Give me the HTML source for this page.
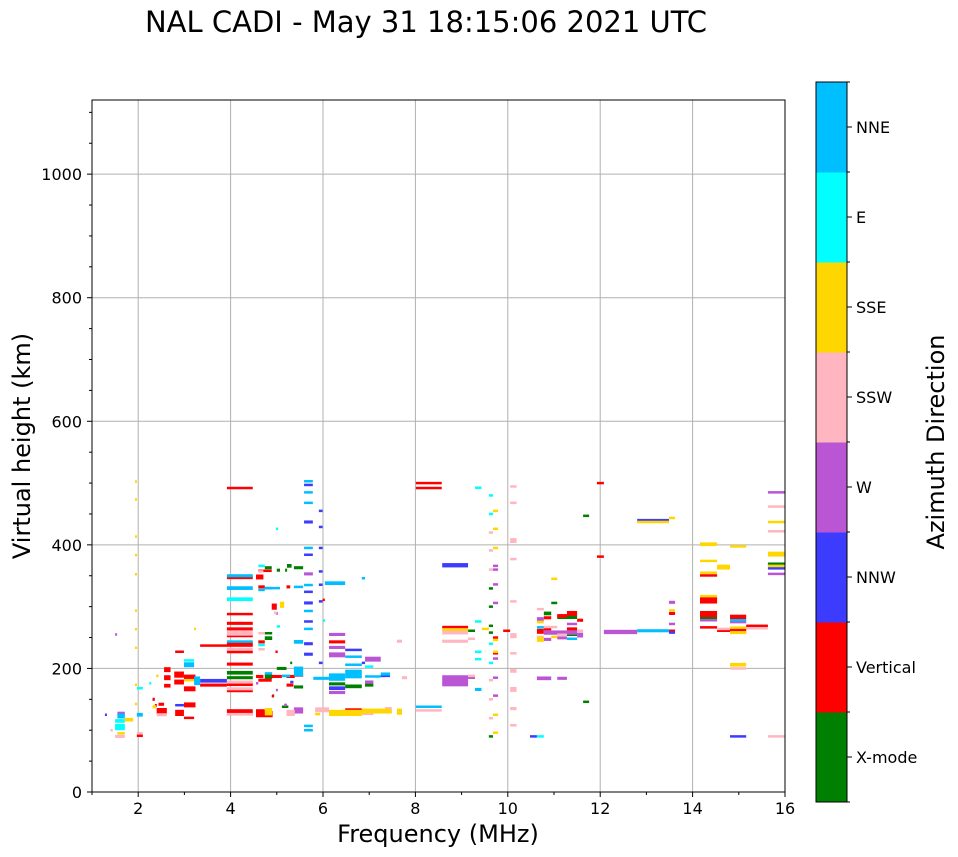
<!DOCTYPE html>
<html><head><meta charset="utf-8"><style>
body{margin:0;background:#fff;}
svg{display:block;font-family:"DejaVu Sans","Liberation Sans",sans-serif;}
</style></head><body>
<svg id="chart" width="958" height="857" viewBox="0 0 958 857" xmlns="http://www.w3.org/2000/svg">
<text x="426" y="32" font-size="29" text-anchor="middle">NAL CADI - May 31 18:15:06 2021 UTC</text>
<g id="grid"></g>
<g id="marks"></g>
<rect x="92" y="100" width="693" height="692" fill="none" stroke="#000" stroke-width="1"/>
<g id="axes"></g>
<text x="438" y="842" font-size="24" text-anchor="middle">Frequency (MHz)</text>
<text transform="translate(30,446) rotate(-90)" font-size="24" text-anchor="middle">Virtual height (km)</text>
<g id="cbar"></g>
<text transform="translate(944,442) rotate(-90)" font-size="24" text-anchor="middle">Azimuth Direction</text>
</svg>
<script>
const dirLabels = ["X-mode","Vertical","NNW","W","SSW","SSE","E","NNE"];
const dirColors = ["#008000","#ff0000","#3c3cff","#ba55d3","#ffb6c1","#ffd700","#00ffff","#00bfff"];
const xTicks = [2,4,6,8,10,12,14,16];
const yTicks = [0,200,400,600,800,1000];
// each entry: [freqStart MHz, freqEnd MHz, height km, height span km]
const xmodeBars = [[3.92,4.48,193,6],[3.92,4.48,185,5],[4.74,4.89,363,5],[5.0,5.07,359,5],[5.18,5.22,359,5],[5.22,5.32,366,6],[5.37,5.57,363,5],[4.74,4.9,249,6],[4.74,4.9,257,4],[5.0,5.21,200,5],[5.29,5.32,209,4],[4.74,4.9,187,8],[6.48,6.84,171,6],[6.13,6.48,175,5],[6.91,7.09,173,5],[5.37,5.57,170,5],[4.9,4.94,156,4],[5.11,5.25,138,4],[9.14,9.29,261,4],[9.59,9.68,330,3],[9.59,9.68,300,4],[9.59,9.68,269,4],[9.59,9.68,258,4],[9.59,9.68,90,4],[10.94,11.07,306,4],[10.78,10.94,289,6],[11.07,11.5,283,6],[11.07,11.28,258,5],[11.28,11.5,255,5],[11.63,11.76,447,4],[11.63,11.76,146,4],[14.16,14.53,281,5],[15.63,16.0,369,5]];
const verticalBars = [[3.92,4.48,492,4],[3.92,4.48,347,5],[3.92,4.48,288,4],[3.92,4.48,273,5],[3.92,4.48,264,5],[3.92,4.48,253,5],[3.92,4.48,241,5],[3.92,4.48,227,5],[3.92,4.48,207,5],[3.92,4.48,174,5],[3.92,4.48,164,5],[3.92,4.48,129,10],[3.34,4.48,237,4],[3.34,3.92,173,5],[2.56,2.7,198,8],[2.56,2.7,185,8],[2.56,2.7,172,6],[2.78,2.99,190,10],[2.78,2.99,178,8],[2.99,3.24,185,10],[2.99,3.24,167,8],[2.8,2.99,128,10],[2.99,3.24,141,8],[2.99,3.21,120,4],[2.8,2.99,227,4],[1.97,2.1,91,4],[2.31,2.36,150,5],[2.36,2.4,140,5],[2.4,2.62,131,10],[2.44,2.56,142,5],[4.55,4.71,348,8],[4.6,4.89,358,4],[4.6,4.74,332,5],[4.89,5.0,300,10],[5.21,5.29,332,5],[4.6,4.74,243,5],[4.97,5.02,227,4],[4.6,4.89,181,5],[4.55,4.74,129,10],[4.89,5.11,187,5],[5.21,5.39,187,5],[4.55,4.71,187,5],[4.89,4.94,155,4],[5.21,5.36,173,5],[5.37,5.57,189,5],[6.13,6.48,243,5],[6.48,6.84,133,5],[4.55,4.91,126,10],[5.99,6.04,311,4],[8.01,8.57,500,4],[8.01,8.57,492,4],[8.58,9.14,267,4],[9.9,10.05,261,4],[9.68,9.79,225,3],[9.68,9.79,250,4],[10.63,10.78,260,8],[10.78,10.94,282,5],[11.07,11.28,285,6],[11.28,11.5,289,8],[11.5,11.63,278,5],[11.28,11.5,264,5],[10.78,10.94,264,5],[11.93,12.08,500,4],[11.93,12.08,381,4],[13.49,13.62,289,5],[13.49,13.62,261,4],[14.16,14.53,311,12],[14.16,14.53,288,10],[14.16,14.53,267,3],[14.16,14.53,351,3],[14.53,14.81,261,4],[14.81,15.16,283,8],[14.81,15.16,261,8],[15.16,15.63,269,4]];
const nnwBars = [[1.28,1.31,125,4],[3.34,3.92,180,6],[2.8,2.99,141,3],[4.74,4.9,330,4],[5.59,5.78,497,4],[5.59,5.78,437,5],[5.59,5.78,384,4],[5.59,5.78,324,4],[5.59,5.78,306,5],[5.59,5.78,276,4],[5.59,5.78,240,5],[5.59,5.78,223,5],[5.91,5.99,455,4],[5.91,5.99,429,4],[5.91,5.99,395,4],[5.91,5.99,357,4],[5.91,5.99,336,3],[5.91,5.99,309,3],[5.91,5.99,209,4],[6.13,6.48,168,6],[6.48,6.84,230,4],[7.25,7.45,188,4],[6.84,6.91,209,4],[5.29,5.36,178,4],[8.58,9.14,367,7],[10.48,10.63,90,4],[12.8,13.49,440,4],[13.49,13.62,258,4],[14.81,15.16,90,4],[15.63,16.0,362,4],[7.25,7.34,188,4]];
const wBars = [[1.55,1.71,127,6],[1.5,1.53,255,4],[6.13,6.48,255,5],[6.13,6.48,234,5],[6.13,6.48,222,8],[6.13,6.48,161,5],[6.91,7.25,215,8],[6.91,7.09,178,5],[5.37,5.57,132,10],[5.59,5.78,353,5],[4.98,5.02,289,4],[5.16,5.22,141,4],[4.55,4.6,176,4],[4.98,5.02,165,4],[8.58,9.14,180,18],[9.14,9.29,185,4],[9.68,9.79,366,4],[9.68,9.79,360,4],[9.68,9.79,336,4],[9.68,9.79,306,4],[9.68,9.79,216,4],[9.68,9.79,185,4],[9.68,9.79,156,4],[10.63,10.78,280,6],[10.78,11.5,258,7],[11.28,11.5,272,4],[11.5,11.63,254,8],[11.07,11.28,250,6],[10.78,10.94,247,5],[10.63,10.94,184,6],[11.07,11.28,184,5],[12.08,12.8,259,7],[13.49,13.62,307,5],[13.49,13.62,272,4],[14.16,14.53,278,4],[14.81,15.16,275,4],[15.63,16.0,485,4],[15.63,16.0,353,4]];
const sswBars = [[1.5,1.71,106,6],[1.5,1.71,90,5],[1.4,1.45,100,4],[1.97,2.1,95,4],[3.92,4.48,257,8],[3.92,4.48,231,5],[3.92,4.48,178,5],[3.92,4.48,167,5],[3.92,4.48,126,4],[2.4,2.62,125,5],[4.6,4.74,231,4],[4.6,4.74,257,4],[4.94,5.0,290,4],[5.83,6.13,133,8],[6.84,7.09,127,5],[5.21,5.39,128,10],[4.6,4.71,357,4],[8.01,8.57,132,4],[8.58,9.14,259,8],[8.58,9.14,244,5],[9.14,9.29,248,4],[9.14,9.29,188,4],[9.59,9.68,420,4],[9.59,9.68,391,4],[9.59,9.68,360,4],[9.59,9.68,181,4],[9.59,9.68,150,4],[9.59,9.68,120,3],[10.05,10.19,495,3],[10.05,10.19,468,4],[10.05,10.19,407,8],[10.05,10.19,377,4],[10.05,10.19,309,3],[10.05,10.19,253,8],[10.05,10.19,225,3],[10.05,10.19,196,6],[10.05,10.19,166,8],[10.05,10.19,135,5],[10.05,10.19,108,4],[10.63,10.78,296,4],[10.63,10.78,251,4],[10.78,11.07,267,4],[11.07,11.28,254,5],[11.5,11.63,261,4],[14.53,14.81,264,4],[14.81,15.16,200,4],[15.63,16.0,462,4],[15.63,16.0,422,4],[15.63,16.0,90,4],[7.34,7.49,135,5],[7.71,7.82,185,5],[7.6,7.71,244,5],[15.16,15.63,266,2]];
const sseBars = [[1.93,1.97,503,3],[1.93,1.97,474,3],[1.93,1.97,414,3],[1.93,1.97,384,3],[1.93,1.97,353,3],[1.93,1.97,294,3],[1.93,1.97,264,3],[1.93,1.97,234,3],[1.93,1.97,174,3],[1.93,1.97,143,3],[1.71,1.89,117,6],[1.55,1.71,95,4],[3.21,3.25,264,4],[2.39,2.44,188,4],[2.31,2.39,138,5],[5.07,5.16,303,10],[4.74,4.9,130,12],[2.99,3.21,181,4],[6.13,6.84,128,10],[6.84,7.45,131,8],[5.83,5.94,126,4],[7.23,7.49,130,6],[7.6,7.71,130,10],[8.58,9.14,263,4],[9.68,9.79,455,4],[9.68,9.79,426,4],[9.68,9.79,395,4],[9.68,9.79,246,4],[9.68,9.79,227,4],[9.68,9.79,125,4],[9.68,9.79,96,4],[9.44,9.59,264,4],[10.94,11.07,345,4],[10.94,11.07,251,4],[10.63,10.78,275,4],[10.63,10.78,247,8],[12.8,13.49,437,4],[13.49,13.62,444,3],[13.49,13.62,294,4],[14.16,14.53,401,6],[14.16,14.53,374,4],[14.16,14.53,355,4],[14.16,14.53,317,4],[14.53,14.81,364,8],[14.81,15.16,398,3],[14.81,15.16,266,4],[14.81,15.16,258,5],[14.81,15.16,206,6],[15.63,16.0,437,4],[15.63,16.0,385,8],[15.63,16.0,366,4]];
const eBars = [[1.5,1.71,105,10],[1.5,1.71,115,6],[1.97,2.1,168,4],[2.24,2.28,176,4],[3.92,4.48,312,6],[2.99,3.21,213,4],[4.6,4.74,366,4],[4.98,5.03,426,4],[5.0,5.07,268,4],[4.6,4.74,238,4],[5.37,5.57,198,5],[6.0,6.03,278,3],[6.91,7.09,203,4],[9.29,9.43,493,3],[9.29,9.43,276,4],[9.29,9.43,227,4],[9.29,9.43,215,4],[9.59,9.68,480,4],[9.59,9.68,450,4],[9.59,9.68,240,4],[9.59,9.68,209,4],[10.63,10.78,90,4]];
const nneBars = [[1.55,1.71,123,8],[1.97,2.1,125,6],[3.92,4.48,350,5],[3.92,4.48,330,6],[3.92,4.48,244,3],[2.99,3.21,206,8],[3.21,3.34,180,14],[5.59,5.78,503,4],[5.59,5.78,485,4],[5.59,5.78,468,4],[5.59,5.78,395,4],[5.59,5.78,293,4],[5.59,5.78,264,4],[5.59,5.78,335,4],[6.04,6.48,338,6],[6.13,6.48,186,12],[6.48,6.84,191,14],[5.79,6.13,184,5],[6.48,6.84,219,4],[6.48,6.84,206,4],[6.91,7.25,187,4],[7.25,7.45,191,5],[6.84,6.91,346,4],[5.37,5.57,243,6],[5.37,5.57,195,16],[4.6,4.74,327,4],[4.74,5.07,330,4],[5.37,5.57,332,4],[4.74,4.9,192,4],[5.11,5.29,188,4],[5.59,5.78,107,4],[5.59,5.78,100,4],[8.01,8.57,138,4],[9.29,9.43,166,5],[11.28,11.5,248,4],[10.63,10.78,267,3],[12.8,13.49,261,5],[14.81,15.16,278,4]];
const seriesByDir = [xmodeBars, verticalBars, nnwBars, wBars, sswBars, sseBars, eBars, nneBars];

const NS = "http://www.w3.org/2000/svg";
const PL = 92, PR = 785, PT = 100, PB = 792;
const X0 = 1, X1 = 16, Y0 = 0, Y1 = 1120;
function xs(f){ return PL + (f - X0) / (X1 - X0) * (PR - PL); }
function ys(h){ return PB - (h - Y0) / (Y1 - Y0) * (PB - PT); }
function mk(tag, attrs, parent){ const e = document.createElementNS(NS, tag); for (const k in attrs) e.setAttribute(k, attrs[k]); parent.appendChild(e); return e; }

const grid = document.getElementById('grid');
const axes = document.getElementById('axes');
xTicks.forEach(t => {
  const gl = mk('line', {x1: xs(t), x2: xs(t), y1: PT, y2: PB, stroke: '#b0b0b0', 'stroke-width': 1}, grid);
  
  
  mk('line', {x1: xs(t), x2: xs(t), y1: PB, y2: PB + 5, stroke: '#000'}, axes);
  const tl = mk('text', {x: xs(t), y: PB + 22, 'font-size': 16, 'text-anchor': 'middle'}, axes);
  tl.textContent = t;
  
  
});
for (let t = 1; t <= 15; t += 2) mk('line', {x1: xs(t), x2: xs(t), y1: PB, y2: PB + 3, stroke: '#000'}, axes);
yTicks.forEach(t => {
  const gl = mk('line', {x1: PL, x2: PR, y1: ys(t), y2: ys(t), stroke: '#b0b0b0', 'stroke-width': 1}, grid);
  
  
  mk('line', {x1: PL - 5, x2: PL, y1: ys(t), y2: ys(t), stroke: '#000'}, axes);
  const tl = mk('text', {x: PL - 10, y: ys(t) + 6, 'font-size': 16, 'text-anchor': 'end'}, axes);
  tl.textContent = t;
  
  
});
for (let t = 50; t <= 1100; t += 50) if (t % 200) mk('line', {x1: PL - 3, x2: PL, y1: ys(t), y2: ys(t), stroke: '#000'}, axes);

const marks = document.getElementById('marks');
seriesByDir.forEach((arr, di) => {
  arr.forEach(b => {
    const x = xs(b[0]);
    const w = Math.max(xs(b[1]) - x, 2);
    const y = ys(b[2] + b[3] / 2);
    const h = Math.max(ys(b[2] - b[3] / 2) - y, 2.5);
    const r = mk('rect', {x: x, y: y, width: w, height: h, fill: dirColors[di]}, marks);
    
    
  });
});

const cb = document.getElementById('cbar');
const CT = 82, CB = 802, CX = 816, CW = 31;
const seg = (CB - CT) / dirLabels.length;
dirLabels.forEach((lab, i) => {
  const y = CB - (i + 1) * seg;
  const r = mk('rect', {x: CX, y: y, width: CW, height: seg + 0.5, fill: dirColors[i]}, cb);
  
  
  mk('line', {x1: CX + CW, x2: CX + CW + 5, y1: y + seg / 2, y2: y + seg / 2, stroke: '#000'}, cb);
  const t = mk('text', {x: CX + CW + 9, y: y + seg / 2 + 6, 'font-size': 16}, cb);
  t.textContent = lab;
  
  
});
for (let i = 0; i <= dirLabels.length; i++) {
  const y = CT + i * seg;
  mk('line', {x1: CX + CW, x2: CX + CW + 3, y1: y, y2: y, stroke: '#000'}, cb);
}
mk('rect', {x: CX, y: CT, width: CW, height: CB - CT, fill: 'none', stroke: '#000'}, cb);
</script>
</body></html>
